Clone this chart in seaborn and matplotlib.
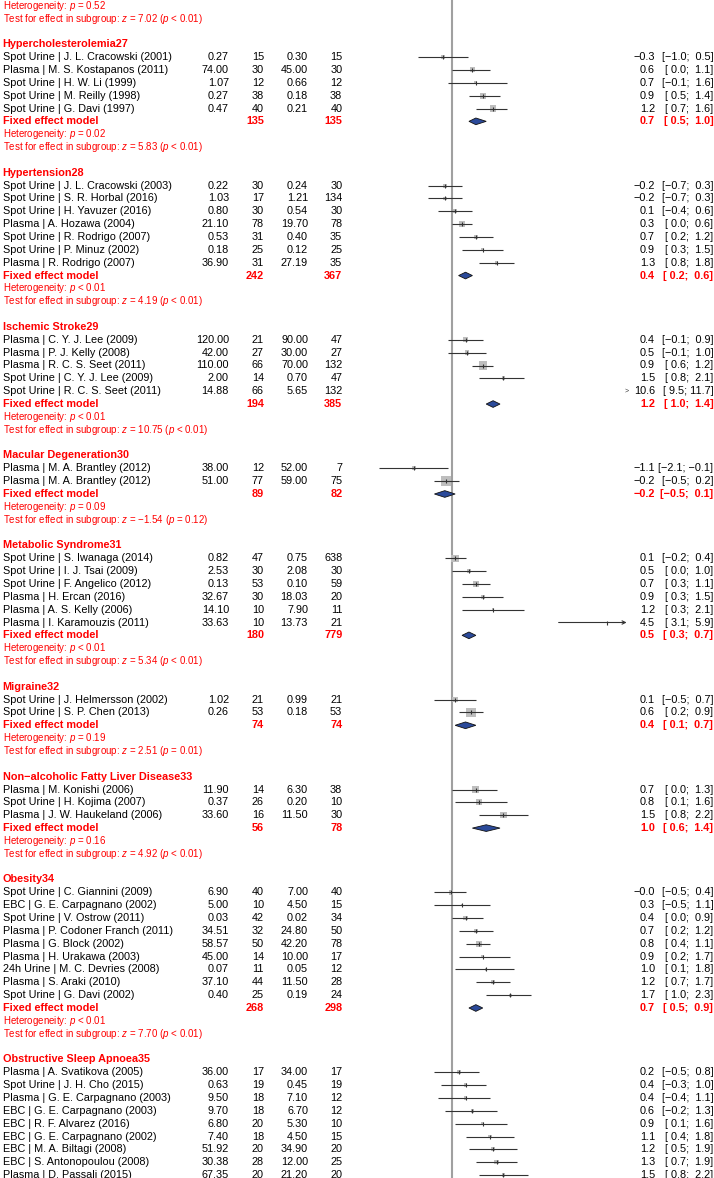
import numpy as np
import pandas as pd
import matplotlib
matplotlib.use("Agg")
import matplotlib.pyplot as plt
import seaborn as sns
from matplotlib.patches import Polygon

sns.set_theme(style="white")
plt.rcParams['font.family'] = ['Liberation Sans', 'DejaVu Sans']
plt.rcParams['mathtext.fontset'] = 'custom'
plt.rcParams['mathtext.rm'] = 'Liberation Sans'
plt.rcParams['mathtext.it'] = 'Liberation Sans:italic'
plt.rcParams['mathtext.bf'] = 'Liberation Sans:bold'

M = "\u2212"

# ---------------- data ----------------
prev_het = "Heterogeneity: $p$ = 0.52"
prev_test = "Test for effect in subgroup: $z$ = 7.02 ($p$ < 0.01)"

group_names = ["Hypercholesterolemia27", "Hypertension28", "Ischemic Stroke29",
               "Macular Degeneration30", "Metabolic Syndrome31", "Migraine32",
               "Non" + M + "alcoholic Fatty Liver Disease33", "Obesity34",
               "Obstructive Sleep Apnoea35"]
group_het = ["$p$ = 0.02", "$p$ < 0.01", "$p$ < 0.01", "$p$ = 0.09", "$p$ < 0.01",
             "$p$ = 0.19", "$p$ = 0.16", "$p$ < 0.01", None]
group_test = ["$z$ = 5.83 ($p$ < 0.01)", "$z$ = 4.19 ($p$ < 0.01)",
              "$z$ = 10.75 ($p$ < 0.01)", "$z$ = " + M + "1.54 ($p$ = 0.12)",
              "$z$ = 5.34 ($p$ < 0.01)", "$z$ = 2.51 ($p$ = 0.01)",
              "$z$ = 4.92 ($p$ < 0.01)", "$z$ = 7.70 ($p$ < 0.01)", None]
fixed_est = [0.7, 0.4, 1.2, -0.2, 0.5, 0.4, 1.0, 0.7, None]
fixed_lo = [0.5, 0.2, 1.0, -0.5, 0.3, 0.1, 0.6, 0.5, None]
fixed_hi = [1.0, 0.6, 1.4, 0.1, 0.7, 0.7, 1.4, 0.9, None]
fixed_n_exp = [135, 242, 194, 89, 180, 74, 56, 268, None]
fixed_n_ctrl = [135, 367, 385, 82, 779, 74, 78, 298, None]

study_group = [0]*5 + [1]*7 + [2]*5 + [3]*2 + [4]*6 + [5]*2 + [6]*3 + [7]*9 + [8]*9
study_labels = [
    "Spot Urine | J. L. Cracowski (2001)", "Plasma | M. S. Kostapanos (2011)",
    "Spot Urine | H. W. Li (1999)", "Spot Urine | M. Reilly (1998)",
    "Spot Urine | G. Davi (1997)",
    "Spot Urine | J. L. Cracowski (2003)", "Spot Urine | S. R. Horbal (2016)",
    "Spot Urine | H. Yavuzer (2016)", "Plasma | A. Hozawa (2004)",
    "Spot Urine | R. Rodrigo (2007)", "Spot Urine | P. Minuz (2002)",
    "Plasma | R. Rodrigo (2007)",
    "Plasma | C. Y. J. Lee (2009)", "Plasma | P. J. Kelly (2008)",
    "Plasma | R. C. S. Seet (2011)", "Spot Urine | C. Y. J. Lee (2009)",
    "Spot Urine | R. C. S. Seet (2011)",
    "Plasma | M. A. Brantley (2012)", "Plasma | M. A. Brantley (2012)",
    "Spot Urine | S. Iwanaga (2014)", "Spot Urine | I. J. Tsai (2009)",
    "Spot Urine | F. Angelico (2012)", "Plasma | H. Ercan (2016)",
    "Plasma | A. S. Kelly (2006)", "Plasma | I. Karamouzis (2011)",
    "Spot Urine | J. Helmersson (2002)", "Spot Urine | S. P. Chen (2013)",
    "Plasma | M. Konishi (2006)", "Spot Urine | H. Kojima (2007)",
    "Plasma | J. W. Haukeland (2006)",
    "Spot Urine | C. Giannini (2009)", "EBC | G. E. Carpagnano (2002)",
    "Spot Urine | V. Ostrow (2011)", "Plasma | P. Codoner Franch (2011)",
    "Plasma | G. Block (2002)", "Plasma | H. Urakawa (2003)",
    "24h Urine | M. C. Devries (2008)", "Plasma | S. Araki (2010)",
    "Spot Urine | G. Davi (2002)",
    "Plasma | A. Svatikova (2005)", "Spot Urine | J. H. Cho (2015)",
    "Plasma | G. E. Carpagnano (2003)", "EBC | G. E. Carpagnano (2003)",
    "EBC | R. F. Alvarez (2016)", "EBC | G. E. Carpagnano (2002)",
    "EBC | M. A. Biltagi (2008)", "EBC | S. Antonopoulou (2008)",
    "Plasma | D. Passali (2015)",
]
mean_exp = [0.27, 74.00, 1.07, 0.27, 0.47,
            0.22, 1.03, 0.80, 21.10, 0.53, 0.18, 36.90,
            120.00, 42.00, 110.00, 2.00, 14.88,
            38.00, 51.00,
            0.82, 2.53, 0.13, 32.67, 14.10, 33.63,
            1.02, 0.26,
            11.90, 0.37, 33.60,
            6.90, 5.00, 0.03, 34.51, 58.57, 45.00, 0.07, 37.10, 0.40,
            36.00, 0.63, 9.50, 9.70, 6.80, 7.40, 51.92, 30.38, 67.35]
n_exp = [15, 30, 12, 38, 40,
         30, 17, 30, 78, 31, 25, 31,
         21, 27, 66, 14, 66,
         12, 77,
         47, 30, 53, 30, 10, 10,
         21, 53,
         14, 26, 16,
         40, 10, 42, 32, 50, 14, 11, 44, 25,
         17, 19, 18, 18, 20, 18, 20, 28, 20]
mean_ctrl = [0.30, 45.00, 0.66, 0.18, 0.21,
             0.24, 1.21, 0.54, 19.70, 0.40, 0.12, 27.19,
             90.00, 30.00, 70.00, 0.70, 5.65,
             52.00, 59.00,
             0.75, 2.08, 0.10, 18.03, 7.90, 13.73,
             0.99, 0.18,
             6.30, 0.20, 11.50,
             7.00, 4.50, 0.02, 24.80, 42.20, 10.00, 0.05, 11.50, 0.19,
             34.00, 0.45, 7.10, 6.70, 5.30, 4.50, 34.90, 12.00, 21.20]
n_ctrl = [15, 30, 12, 38, 40,
          30, 134, 30, 78, 35, 25, 35,
          47, 27, 132, 47, 132,
          7, 75,
          638, 30, 59, 20, 11, 21,
          21, 53,
          38, 10, 30,
          40, 15, 34, 50, 78, 17, 12, 28, 24,
          17, 19, 12, 12, 10, 15, 20, 25, 20]
smd = [-0.26, 0.6, 0.7, 0.9, 1.2,
       -0.2, -0.2, 0.1, 0.3, 0.7, 0.9, 1.3,
       0.4, 0.45, 0.9, 1.5, 10.6,
       -1.1, -0.17,
       0.1, 0.5, 0.7, 0.9, 1.2, 4.5,
       0.1, 0.55,
       0.7, 0.8, 1.5,
       -0.02, 0.3, 0.4, 0.7, 0.8, 0.9, 1.0, 1.2, 1.7,
       0.2, 0.4, 0.4, 0.6, 0.9, 1.1, 1.2, 1.3, 1.5]
ci_lo = [-0.98, 0.0, -0.1, 0.5, 0.7,
         -0.7, -0.7, -0.4, 0.0, 0.2, 0.3, 0.8,
         -0.1, -0.1, 0.6, 0.8, 9.5,
         -2.1, -0.5,
         -0.2, 0.0, 0.3, 0.3, 0.3, 3.1,
         -0.5, 0.2,
         0.0, 0.1, 0.8,
         -0.5, -0.5, 0.0, 0.2, 0.4, 0.2, 0.1, 0.7, 1.0,
         -0.5, -0.3, -0.4, -0.2, 0.1, 0.4, 0.5, 0.7, 0.8]
ci_hi = [0.46, 1.1, 1.6, 1.4, 1.6,
         0.3, 0.3, 0.6, 0.6, 1.2, 1.5, 1.8,
         0.9, 1.0, 1.2, 2.1, 11.7,
         -0.1, 0.2,
         0.4, 1.0, 1.1, 1.5, 2.1, 5.9,
         0.7, 0.9,
         1.3, 1.6, 2.2,
         0.4, 1.1, 0.9, 1.2, 1.1, 1.7, 1.8, 1.7, 2.3,
         0.8, 1.0, 1.1, 1.3, 1.6, 1.8, 1.9, 1.9, 2.2]

# ---------------- layout ----------------
W, H = 714, 1178
ROW0, ROWH = 5.7, 12.85
XMIN, XMAX = -2.3, 5.07
X0PX, PXU = 451.7, 34.5
RED = "#FF0000"
FS = 7.8
FS_SMALL = 7.0

def f1(v):
    s = f"{v:.1f}"
    return s.replace("-", M)

def f1w(v):
    s = f"{v:4.1f}"
    return s.replace("-", M)

def ci_str(lo, hi):
    return "[" + f1w(lo) + "; " + f1w(hi) + "]"

# rows
rows = []
header_rows, fixed_rows, het_rows, test_rows = [], [], [], []
r = 2
for g in range(len(group_names)):
    hr = r + 1
    header_rows.append(hr)
    n = study_group.count(g)
    for k in range(n):
        rows.append(hr + 1 + k)
    fr = hr + 1 + n
    fixed_rows.append(fr)
    het_rows.append(fr + 1)
    test_rows.append(fr + 2)
    r = fr + 3

df = pd.DataFrame({"group": study_group, "label": study_labels, "row": rows,
                   "smd": smd, "lo": ci_lo, "hi": ci_hi})
df["w"] = 1.0 / (df["hi"] - df["lo"]) ** 2
df["share"] = df["w"] / df.groupby("group")["w"].transform("sum")
df["side_pt"] = 11.3 * np.sqrt(df["share"]) * 0.72
df["s"] = df["side_pt"] ** 2

ytop = -ROW0 / ROWH
ybot = (H - ROW0) / ROWH

fig = plt.figure(figsize=(W / 100, H / 100), dpi=100)
L = X0PX + XMIN * PXU
R = X0PX + XMAX * PXU
ax = fig.add_axes([L / W, 0, (R - L) / W, 1])
ax.set_xlim(XMIN, XMAX)
ax.set_ylim(ybot, ytop)
ax.axis("off")

tax = fig.add_axes([0, 0, 1, 1], zorder=-1)
tax.set_xlim(0, W)
tax.set_ylim(ybot, ytop)
tax.axis("off")

ax.axvline(0, color="#A0A0A0", lw=1.5, zorder=1)

vis = df[df["smd"] < XMAX]
sns.scatterplot(data=vis, x="smd", y="row", marker="s", s=vis["s"].values,
                color="#BEBEBE", edgecolor="none", linewidth=0, ax=ax,
                legend=False, zorder=2)

for _, rr in df.iterrows():
    if rr["lo"] >= XMAX:
        ax.text(XMAX, rr["row"], ">", ha="center", va="center", fontsize=5,
                color="#333333")
        continue
    if rr["hi"] > XMAX:
        ax.annotate("", xy=(XMAX, rr["row"]), xytext=(rr["lo"], rr["row"]),
                    arrowprops=dict(arrowstyle="->", lw=0.8, color="#333333",
                                    shrinkA=0, shrinkB=0, mutation_scale=6),
                    zorder=3)
    else:
        ax.plot([rr["lo"], rr["hi"]], [rr["row"], rr["row"]], color="#333333",
                lw=0.8, zorder=3, solid_capstyle="butt")
    ax.plot([rr["smd"]], [rr["row"]], marker="|", ms=3, mew=0.8,
            color="#333333", zorder=4)

for g in range(len(group_names)):
    if fixed_est[g] is None:
        continue
    fr = fixed_rows[g]
    h = 0.26
    poly = Polygon([(fixed_lo[g], fr), (fixed_est[g], fr - h),
                    (fixed_hi[g], fr), (fixed_est[g], fr + h)],
                   closed=True, facecolor="#2B4A9A", edgecolor="#111111",
                   lw=0.6, zorder=3)
    ax.add_patch(poly)

# ---------------- text ----------------
XL, XME, XNE, XMC, XNC, XEST, XCI = 2.7, 229, 264, 308, 342.3, 655, 713.3

def t(x, y, s, ha="left", **kw):
    kw.setdefault("fontsize", FS)
    kw.setdefault("color", "black")
    tax.text(x, y, s, ha=ha, va="center", **kw)

t(XL, 0, prev_het, color=RED, fontsize=FS_SMALL)
t(XL, 1, prev_test, color=RED, fontsize=FS_SMALL)

for i, rr in df.iterrows():
    y = rr["row"]
    t(XL, y, rr["label"])
    t(XME, y, f"{mean_exp[i]:.2f}", ha="right")
    t(XNE, y, f"{n_exp[i]}", ha="right")
    t(XMC, y, f"{mean_ctrl[i]:.2f}", ha="right")
    t(XNC, y, f"{n_ctrl[i]}", ha="right")
    t(XEST, y, f1(rr["smd"]), ha="right")
    t(XCI, y, ci_str(rr["lo"], rr["hi"]), ha="right")

for g in range(len(group_names)):
    t(XL, header_rows[g], group_names[g], color=RED, fontweight="bold")
    if fixed_est[g] is None:
        continue
    fr = fixed_rows[g]
    t(XL, fr, "Fixed effect model", color=RED, fontweight="bold")
    t(XNE, fr, f"{fixed_n_exp[g]}", ha="right", color=RED, fontweight="bold")
    t(XNC, fr, f"{fixed_n_ctrl[g]}", ha="right", color=RED, fontweight="bold")
    t(XEST, fr, f1(fixed_est[g]), ha="right", color=RED, fontweight="bold")
    t(XCI, fr, ci_str(fixed_lo[g], fixed_hi[g]), ha="right", color=RED,
      fontweight="bold")
    t(XL, het_rows[g], "Heterogeneity: " + group_het[g], color=RED,
      fontsize=FS_SMALL)
    t(XL, test_rows[g], "Test for effect in subgroup: " + group_test[g],
      color=RED, fontsize=FS_SMALL)

fig.savefig("out.png", dpi=100)
